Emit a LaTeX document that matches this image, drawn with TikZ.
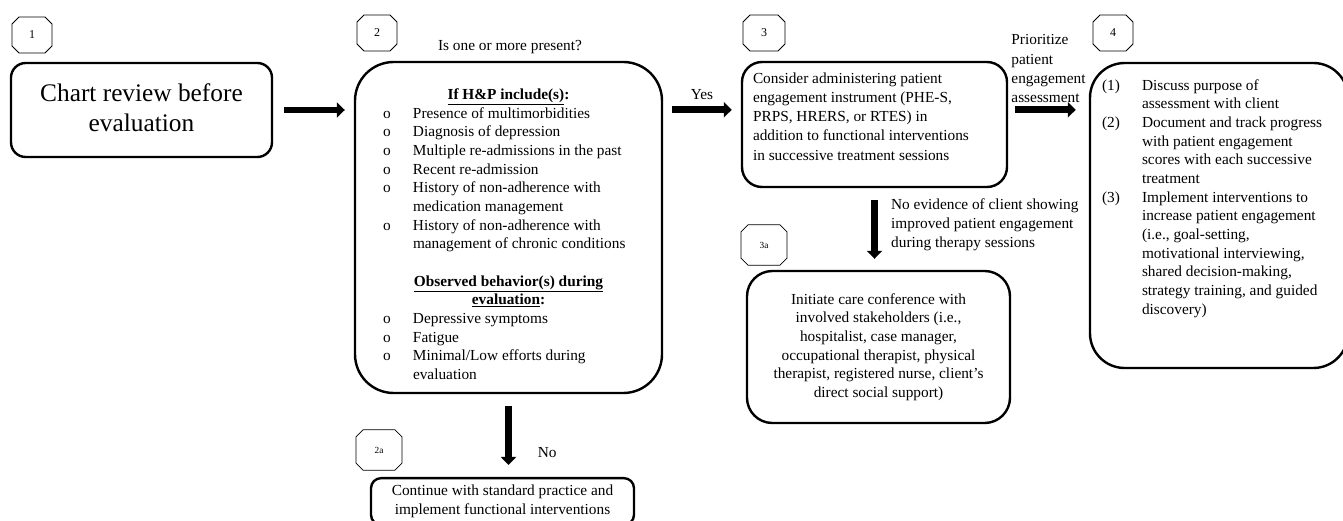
\documentclass[tikz,border=0pt]{standalone}
\usepackage{fontspec}
\setmainfont{Liberation Serif}
\usetikzlibrary{positioning, shapes.misc, arrows.meta}
\tikzset{kasten/.style={rectangle,draw,line width=1.8pt,inner sep=0pt},
	nummer/.style={chamfered rectangle,chamfered rectangle xsep=9pt,draw,line width=0.6pt,
		inner sep=0pt,minimum width=30pt,minimum height=27pt,font=\fontsize{9}{9}\selectfont},
	klein/.style={minimum width=34.5pt,minimum height=30.5pt,chamfered rectangle xsep=10pt,font=\fontsize{7}{7}\selectfont},
	pfeil/.style={line width=5pt,-{Triangle[length=6pt,width=11.25pt]}},
	beschriftung/.style={inner sep=0pt,align=left,font=\fontsize{11.5}{14}\selectfont} }
\newcommand{\kastentext}[3]{\raisebox{#1}[0pt][0pt]{\parbox[c]{#2}{\fontsize{11.5}{14}\selectfont\raggedright #3}}}
\newcommand{\punkt}[1]{\par\hangindent=22.5pt\hangafter=1\noindent\makebox[22.5pt][l]{o}#1}
\newcommand{\nummeriert}[2]{\par\hangindent=30pt\hangafter=1\noindent\makebox[30pt][l]{#1}#2}

\begin{document}
\begin{tikzpicture}[x=0.75pt,y=-0.75pt]
  \useasboundingbox (0,0) rectangle (1343,521);

  % Schritt 1
  \node (n1) [nummer] at (32,35) {1};
  \node (b1) [kasten, rounded corners=11pt, minimum width=195.75pt, minimum height=70.5pt] at (141.5,110)
  	{\kastentext{-1pt}{180pt}{\centering\fontsize{19}{22.5}\selectfont Chart review before\\ evaluation}};

  % Schritt 2
  \node (n2) [nummer] at (377,33) {2};
  \node (frage) [beschriftung] at (510,47) {Is one or more present?};
  \node (b2) [kasten, rounded corners=29pt, minimum width=230.25pt, minimum height=248.25pt] at (508.5,227.5)
  	{\kastentext{-7.4pt}{188.25pt}{%
  	{\centering\bfseries\underline{If H\&P include(s)}:\par}
  	\punkt{Presence of multimorbidities}
  	\punkt{Diagnosis of depression}
  	\punkt{Multiple re-admissions in the past}
  	\punkt{Recent re-admission}
  	\punkt{History of non-adherence with\newline medication management}
  	\punkt{History of non-adherence with\newline management of chronic conditions}
  	\par\vspace{14pt}
  	{\centering\bfseries\underline{Observed behavior(s) during}\\ \underline{evaluation}:\par}
  	\punkt{Depressive symptoms}
  	\punkt{Fatigue}
  	\punkt{Minimal/Low efforts during\newline evaluation}}};

  % Schritt 2a
  \node (n2a) [nummer, klein] at (379,450) {2a};
  \node (b2a) [kasten, rounded corners=7.5pt, minimum width=197.25pt, minimum height=35pt] at (502.5,501.5)
  	{\kastentext{-2.5pt}{180pt}{\centering Continue with standard practice and\\ implement functional interventions}};

  % Schritt 3
  \node (n3) [nummer, minimum width=31.5pt] at (764,33) {3};
  \node (b3) [kasten, rounded corners=15pt, minimum width=198.75pt, minimum height=93.75pt] at (874.5,124.5)
  	{\kastentext{3.5pt}{182.25pt}{\fontsize{11.5}{14.4}\selectfont Consider administering patient\\
  	engagement instrument (PHE-S,\\ PRPS, HRERS, or RTES) in\\
  	addition to functional interventions\\ in successive treatment sessions}};

  % Schritt 3a
  \node (n3a) [nummer, klein] at (764,245) {3a};
  \node (b3a) [kasten, rounded corners=19pt, minimum width=197.25pt, minimum height=114pt] at (878.5,347)
  	{\kastentext{-2.5pt}{180pt}{\centering Initiate care conference with\\ involved stakeholders (i.e.,\\
  	hospitalist, case manager,\\ occupational therapist, physical\\
  	therapist, registered nurse, client’s\\ direct social support)}};

  % Schritt 4
  \node (n4) [nummer] at (1113,33) {4};
  \node (b4) [kasten, rounded corners=26pt, minimum width=193.5pt, minimum height=228.75pt] at (1219,215.5)
  	{\kastentext{10.25pt}{175.5pt}{%
  	\nummeriert{(1)}{Discuss purpose of\newline assessment with client}
  	\nummeriert{(2)}{Document and track progress\newline with patient engagement\newline
  		scores with each successive\newline treatment}
  	\nummeriert{(3)}{Implement interventions to\newline increase patient engagement\newline
  		(i.e., goal-setting,\newline motivational interviewing,\newline shared decision-making,\newline
  		strategy training, and guided\newline discovery)}}};

  % Pfeile
  \coordinate (p2) at ([yshift=-36.75pt]b2.north east);
  \coordinate (p3) at ([yshift=-36.75pt]b3.north east);
  \draw [pfeil, shorten <=8.25pt, shorten >=6.75pt] (b1.east) -- (b1.east -| b2.west);
  \draw [pfeil, shorten <=6.75pt, shorten >=6.75pt] (p2) -- node [beschriftung, above=5pt] {Yes} (p2 -| b3.west);
  \draw [pfeil, shorten <=5.25pt, shorten >=9.75pt] (p3) --
  	node [beschriftung, above=2.5pt, font=\fontsize{11.5}{14.5}\selectfont] {Prioritize\\ patient\\ engagement\\ assessment} (p3 -| b4.west);
  \draw [pfeil, shorten <=9pt, shorten >=9pt] (b2.south) --
  	node [beschriftung, pos=0.7, right=19.5pt] {No} (b2.south |- b2a.north);
  \draw [pfeil, shorten <=9pt, shorten >=8.25pt] (b3.south) --
  	node [beschriftung, pos=0.45, right=10pt] {No evidence of client showing\\ improved patient engagement\\ during therapy sessions} (b3.south |- b3a.north);
\end{tikzpicture}
\end{document}
